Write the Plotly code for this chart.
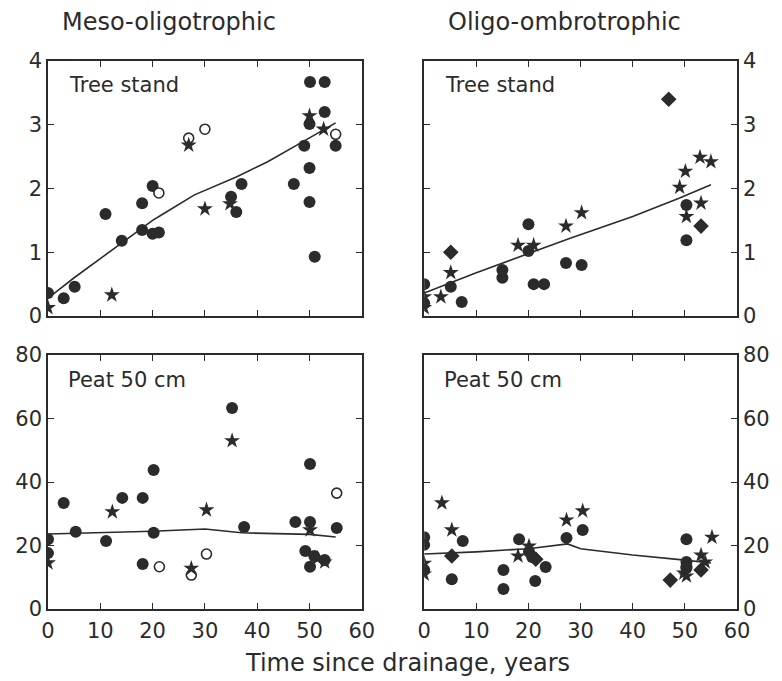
import plotly.graph_objects as go
from plotly.subplots import make_subplots

# ---------------- data ----------------
# Panel A: Meso-oligotrophic, Tree stand
A_fill_x = [0, 3, 5.1, 11, 14.1, 18, 18, 20, 20, 21.2, 35, 36, 37, 47, 49, 50, 50, 50, 50.1, 51, 52.9, 52.9, 55]
A_fill_y = [0.36, 0.28, 0.46, 1.6, 1.18, 1.77, 1.35, 2.04, 1.29, 1.31, 1.87, 1.63, 2.07, 2.07, 2.67, 2.32, 1.79, 3.01, 3.67, 0.93, 3.67, 3.2, 2.67]
A_open_x = [21.2, 26.9, 30, 55]
A_open_y = [1.93, 2.79, 2.93, 2.85]
A_star_x = [0, 12.2, 26.9, 30, 34.8, 50, 52.7]
A_star_y = [0.13, 0.33, 2.68, 1.68, 1.76, 3.14, 2.93]
A_line_x = [0, 5, 10, 15, 20, 22, 28, 36, 42, 48, 55]
A_line_y = [0.28, 0.6, 0.9, 1.2, 1.5, 1.6, 1.9, 2.18, 2.42, 2.7, 3.03]

# Panel B: Oligo-ombrotrophic, Tree stand
B_fill_x = [0, 0, 5.1, 7.2, 15, 15, 20, 20, 21, 23, 27.2, 30.2, 50.3, 50.3]
B_fill_y = [0.5, 0.2, 0.46, 0.22, 0.72, 0.6, 1.44, 1.02, 0.5, 0.5, 0.83, 0.8, 1.19, 1.74]
B_star_x = [0, 0, 3.2, 5.1, 18, 21, 27.2, 30.2, 49, 50.1, 50.3, 52.9, 53.1, 55]
B_star_y = [0.3, 0.13, 0.3, 0.68, 1.11, 1.11, 1.41, 1.62, 2.02, 2.27, 1.56, 2.49, 1.77, 2.42]
B_diam_x = [5.1, 46.9, 53.1]
B_diam_y = [1.0, 3.4, 1.41]
B_line_x = [0, 10, 20, 28, 40, 49, 55]
B_line_y = [0.36, 0.68, 0.98, 1.22, 1.56, 1.85, 2.06]

# Panel C: Meso-oligotrophic, Peat 50 cm
C_fill_x = [0, 0, 3, 5.3, 11.1, 14.2, 18.1, 18.1, 20.2, 20.2, 35.2, 37.5, 47.3, 49.2, 50.1, 50.1, 50.1, 50.9, 52.9, 55.2]
C_fill_y = [22, 17.6, 33.4, 24.3, 21.4, 35, 35, 14.2, 43.8, 24, 63.3, 25.8, 27.4, 18.3, 45.7, 27.4, 13.3, 16.7, 15.4, 25.5]
C_open_x = [21.3, 27.4, 30.3, 55.2]
C_open_y = [13.3, 10.7, 17.3, 36.5]
C_star_x = [0, 12.3, 27.4, 30.3, 35.2, 50.1, 51.5, 52.9]
C_star_y = [14.5, 30.6, 12.8, 31.2, 53, 24.9, 16, 14.8]
C_line_x = [0, 10, 20, 30, 37, 50, 55]
C_line_y = [23.6, 24.0, 24.5, 25.2, 24.0, 23.5, 22.7]

# Panel D: Oligo-ombrotrophic, Peat 50 cm
D_fill_x = [0, 0, 0, 5.3, 7.4, 15.2, 15.2, 18.2, 20.1, 20.7, 21.3, 23.3, 27.3, 30.4, 50.3, 50.3, 50.3, 50.3]
D_fill_y = [22.6, 20.2, 12.3, 9.4, 21.4, 12.3, 6.3, 22, 18, 16.4, 8.8, 13.2, 22.4, 24.9, 22, 14.8, 13.3, 12.9]
D_star_x = [0, 0, 3.4, 5.3, 18, 20.1, 27.3, 30.4, 49.8, 50.3, 53.1, 53.9, 55.2]
D_star_y = [14.4, 11, 33.4, 24.9, 16.7, 19.8, 28, 30.9, 11.3, 10.4, 17, 14.8, 22.6]
D_diam_x = [5.3, 21.4, 47.2, 53.1]
D_diam_y = [16.7, 15.7, 9.1, 12.3]
D_line_x = [0, 10, 20, 27.5, 30, 40, 50, 55]
D_line_y = [17.3, 18.0, 19.0, 20.5, 19.0, 17.0, 15.4, 14.5]

col_titles = ["Meso-oligotrophic", "Oligo-ombrotrophic"]
panel_labels = ["Tree stand", "Tree stand", "Peat 50 cm", "Peat 50 cm"]
x_title = "Time since drainage, years"

# ---------------- figure ----------------
INK = "#2b2b2b"
FONT = "DejaVu Sans"

fig = make_subplots(rows=2, cols=2)

def scat(x, y, symbol, size, row, col, open_=False):
    if open_:
        m = dict(symbol=symbol, size=size, color="white", line=dict(color=INK, width=1.6))
    else:
        m = dict(symbol=symbol, size=size, color=INK, line=dict(width=0))
    fig.add_trace(go.Scatter(x=x, y=y, mode="markers", marker=m, showlegend=False,
                             hoverinfo="skip"), row=row, col=col)

def line(x, y, row, col):
    fig.add_trace(go.Scatter(x=x, y=y, mode="lines", line=dict(color=INK, width=1.6),
                             showlegend=False, hoverinfo="skip"), row=row, col=col)

# A
line(A_line_x, A_line_y, 1, 1)
scat(A_fill_x, A_fill_y, "circle", 12, 1, 1)
scat(A_open_x, A_open_y, "circle", 10, 1, 1, open_=True)
scat(A_star_x, A_star_y, "star", 12, 1, 1)
# B
line(B_line_x, B_line_y, 1, 2)
scat(B_fill_x, B_fill_y, "circle", 12, 1, 2)
scat(B_star_x, B_star_y, "star", 12, 1, 2)
scat(B_diam_x, B_diam_y, "diamond", 12, 1, 2)
# C
line(C_line_x, C_line_y, 2, 1)
scat(C_fill_x, C_fill_y, "circle", 12, 2, 1)
scat(C_open_x, C_open_y, "circle", 10, 2, 1, open_=True)
scat(C_star_x, C_star_y, "star", 12, 2, 1)
# D
line(D_line_x, D_line_y, 2, 2)
scat(D_fill_x, D_fill_y, "circle", 12, 2, 2)
scat(D_star_x, D_star_y, "star", 12, 2, 2)
scat(D_diam_x, D_diam_y, "diamond", 12, 2, 2)

W, H = 782, 681
ML, MR, MT, MB = 48, 38, 61, 72
PW, PH = W - ML - MR, H - MT - MB

def xd(p0, p1):
    return [(p0 - ML) / PW, (p1 - ML) / PW]

def yd(top, bottom):
    return [(H - MB - bottom) / PH, (H - MB - top) / PH]

common_axis = dict(showline=True, linecolor=INK, linewidth=1.6, mirror="ticks",
                   ticks="inside", ticklen=6, tickwidth=1.4, tickcolor=INK,
                   showgrid=False, zeroline=False,
                   tickfont=dict(family=FONT, size=21, color=INK))

xdom_left = xd(48, 365)
xdom_right = xd(428, 744)
ydom_top = yd(61, 316)
ydom_bot = yd(355, 609)

for (r, c) in [(1, 1), (1, 2), (2, 1), (2, 2)]:
    fig.update_xaxes(common_axis, range=[0, 60], tickvals=[0, 10, 20, 30, 40, 50, 60],
                     domain=xdom_left if c == 1 else xdom_right,
                     showticklabels=(r == 2), ticklabelstandoff=2, row=r, col=c)
    if r == 1:
        fig.update_yaxes(common_axis, range=[0, 4], tickvals=[0, 1, 2, 3, 4],
                         domain=ydom_top, row=r, col=c)
    else:
        fig.update_yaxes(common_axis, range=[0, 80], tickvals=[0, 20, 40, 60, 80],
                         domain=ydom_bot, row=r, col=c)
    fig.update_yaxes(side="left" if c == 1 else "right", row=r, col=c)

def px(xp):
    return (xp - ML) / PW

def py(yp):
    return (H - MB - yp) / PH

anns = []
for t, cx in zip(col_titles, [170, 570]):
    anns.append(dict(text=t, x=px(cx), y=py(22), xref="paper", yref="paper",
                     xanchor="center", yanchor="middle", showarrow=False,
                     font=dict(family=FONT, size=24, color=INK)))
label_pos = [(67, 85), (447, 85), (66, 380), (446, 380)]
for lab, (lx, ly) in zip(panel_labels, label_pos):
    anns.append(dict(text=lab, x=px(lx), y=py(ly), xref="paper", yref="paper",
                     xanchor="left", yanchor="middle", showarrow=False,
                     font=dict(family=FONT, size=21, color=INK)))
anns.append(dict(text=x_title, x=px(411), y=py(663), xref="paper", yref="paper",
                 xanchor="center", yanchor="middle", showarrow=False,
                 font=dict(family=FONT, size=24, color=INK)))

fig.update_layout(width=W, height=H, margin=dict(l=ML, r=MR, t=MT, b=MB),
                  paper_bgcolor="white", plot_bgcolor="white",
                  annotations=anns, font=dict(family=FONT, color=INK))

fig.write_html("out.html")
